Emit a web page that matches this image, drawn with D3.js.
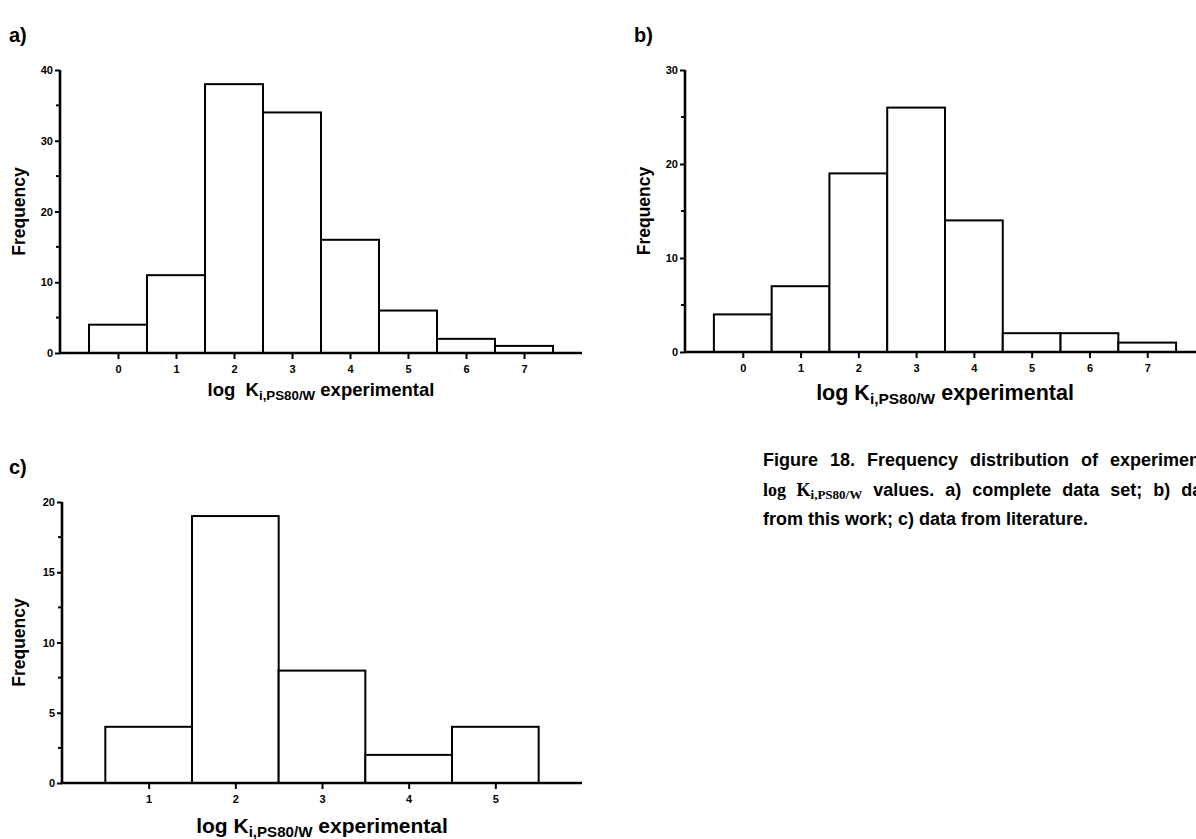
<!DOCTYPE html>
<html>
<head>
<meta charset="utf-8">
<script src="https://cdn.jsdelivr.net/npm/d3@7"></script>
<style>
  body { margin: 0; background: #fff; }
  svg { display: block; }
  .tick-lbl { font-family: "Liberation Sans Narrow", "Liberation Sans", Arial, sans-serif; font-weight: bold; font-size: 11px; }
  .ax-title { font-family: "Liberation Sans", Arial, sans-serif; font-weight: bold; white-space: pre; }
  .caption { font-family: "Liberation Sans", Arial, sans-serif; font-weight: bold; font-size: 18px; }
</style>
</head>
<body>
<svg width="1196" height="839"></svg>
<script>
// data
var aBins = [0, 1, 2, 3, 4, 5, 6, 7];
var aFreq = [4, 11, 38, 34, 16, 6, 2, 1];
var bBins = [0, 1, 2, 3, 4, 5, 6, 7];
var bFreq = [4, 7, 19, 26, 14, 2, 2, 1];
var cBins = [1, 2, 3, 4, 5];
var cFreq = [4, 19, 8, 2, 4];
var aYTicks = [0, 10, 20, 30, 40], aYMinor = [5, 15, 25, 35];
var bYTicks = [0, 10, 20, 30], bYMinor = [5, 15, 25];
var cYTicks = [0, 5, 10, 15, 20], cYMinor = [2.5, 7.5, 12.5, 17.5];

var svg = d3.select('svg');

function drawPanel(o) {
	var x = d3.scaleLinear().domain(o.xDomain).range([o.left, o.right]);
	var y = d3.scaleLinear().domain(o.yDomain).range([o.bottom, o.top]);
	var g = svg.append('g');

	// bars
	g.selectAll('rect.bar')
		.data(o.bins.map(function(b, i){ return {b: b, f: o.freq[i]}; }))
		.enter()
		.append('rect')
		.attr('class', 'bar')
		.attr('x', function(d){ return x(d.b - 0.5); })
		.attr('width', function(d){ return x(d.b + 0.5) - x(d.b - 0.5); })
		.attr('y', function(d){ return y(d.f); })
		.attr('height', function(d){ return y(0) - y(d.f); })
		.attr('fill', 'white')
		.attr('stroke', 'black')
		.attr('stroke-width', 2);

	// y axis
	var yAx = g.append('g').attr('transform', 'translate(' + o.left + ',0)')
		.call(d3.axisLeft(y).tickValues(o.yTicks).tickSize(5).tickPadding(2).tickFormat(d3.format('d')));
	yAx.append('g').selectAll('line').data(o.yMinor).enter().append('line')
		.attr('x1', 0).attr('x2', -4)
		.attr('y1', function(d){ return y(d); }).attr('y2', function(d){ return y(d); })
		.attr('stroke', 'black').attr('stroke-width', 2);

	// x axis
	var xAx = g.append('g').attr('transform', 'translate(0,' + o.bottom + ')')
		.call(d3.axisBottom(x).tickValues(o.bins).tickSize(6).tickPadding(6).tickFormat(d3.format('d')));

	[yAx, xAx].forEach(function(ax){
		ax.select('.domain').attr('stroke', 'black').attr('stroke-width', 2.6);
		ax.selectAll('.tick line').attr('stroke', 'black').attr('stroke-width', 2);
		ax.selectAll('.tick text').attr('class', 'tick-lbl').attr('fill', 'black');
	});
	yAx.select('.domain').attr('d', 'M0,' + (o.bottom + 1) + 'V' + o.top);
	xAx.select('.domain').attr('d', 'M' + (o.left - 1) + ',0H' + o.right);

	// axis titles
	g.append('text')
		.attr('class', 'ax-title')
		.attr('transform', 'translate(' + o.yTitleX + ',' + ((o.top + o.bottom) / 2) + ') rotate(-90)')
		.attr('text-anchor', 'middle')
		.attr('font-size', o.titleSize)
		.text('Frequency');

	var t = g.append('text')
		.attr('class', 'ax-title')
		.attr('x', (o.left + o.right) / 2)
		.attr('y', o.xTitleY)
		.attr('text-anchor', 'middle')
		.attr('font-size', o.xTitleSize);
	t.append('tspan').text(o.logText);
	t.append('tspan').attr('font-size', o.xTitleSize * 0.72).attr('dy', 4).text('i,PS80/W');
	t.append('tspan').attr('dy', -4).text(' experimental');

	svg.append('text')
		.attr('class', 'ax-title')
		.attr('x', o.letterX)
		.attr('y', o.letterY)
		.attr('font-size', 20)
		.text(o.letter);
}

drawPanel({
	bins: aBins, freq: aFreq, yTicks: aYTicks, yMinor: aYMinor,
	xDomain: [-1, 8], yDomain: [0, 40],
	left: 60, right: 582, top: 70, bottom: 353,
	yTitleX: 25, xTitleY: 396, titleSize: 17.5, xTitleSize: 18.5, logText: 'log  K',
	letter: 'a)', letterX: 9, letterY: 42
});

drawPanel({
	bins: bBins, freq: bFreq, yTicks: bYTicks, yMinor: bYMinor,
	xDomain: [-1, 8], yDomain: [0, 30],
	left: 685, right: 1205, top: 70, bottom: 352,
	yTitleX: 650, xTitleY: 400, titleSize: 17.5, xTitleSize: 21.5, logText: 'log K',
	letter: 'b)', letterX: 634, letterY: 42
});

drawPanel({
	bins: cBins, freq: cFreq, yTicks: cYTicks, yMinor: cYMinor,
	xDomain: [0, 6], yDomain: [0, 20],
	left: 62, right: 582, top: 502, bottom: 783,
	yTitleX: 25, xTitleY: 833, titleSize: 17.5, xTitleSize: 21, logText: 'log K',
	letter: 'c)', letterX: 9, letterY: 474
});

// caption (justified text, runs past the right edge as in the source page)
var cap = svg.append('g').attr('class', 'caption');
cap.append('text').attr('x', 763).attr('y', 466).attr('word-spacing', 7)
	.text('Figure 18. Frequency distribution of experimental');
var l2 = cap.append('text').attr('x', 763).attr('y', 496).attr('word-spacing', 6);
l2.append('tspan').attr('font-family', '"Liberation Serif", "DejaVu Serif", serif').text('log K');
l2.append('tspan').attr('font-family', '"Liberation Serif", "DejaVu Serif", serif')
	.attr('font-size', 13).attr('dy', 3).text('i,PS80/W');
l2.append('tspan').attr('dy', -3).text(' values. a) complete data set; b) data');
cap.append('text').attr('x', 763).attr('y', 525)
	.text('from this work; c) data from literature.');
</script>
</body>
</html>
